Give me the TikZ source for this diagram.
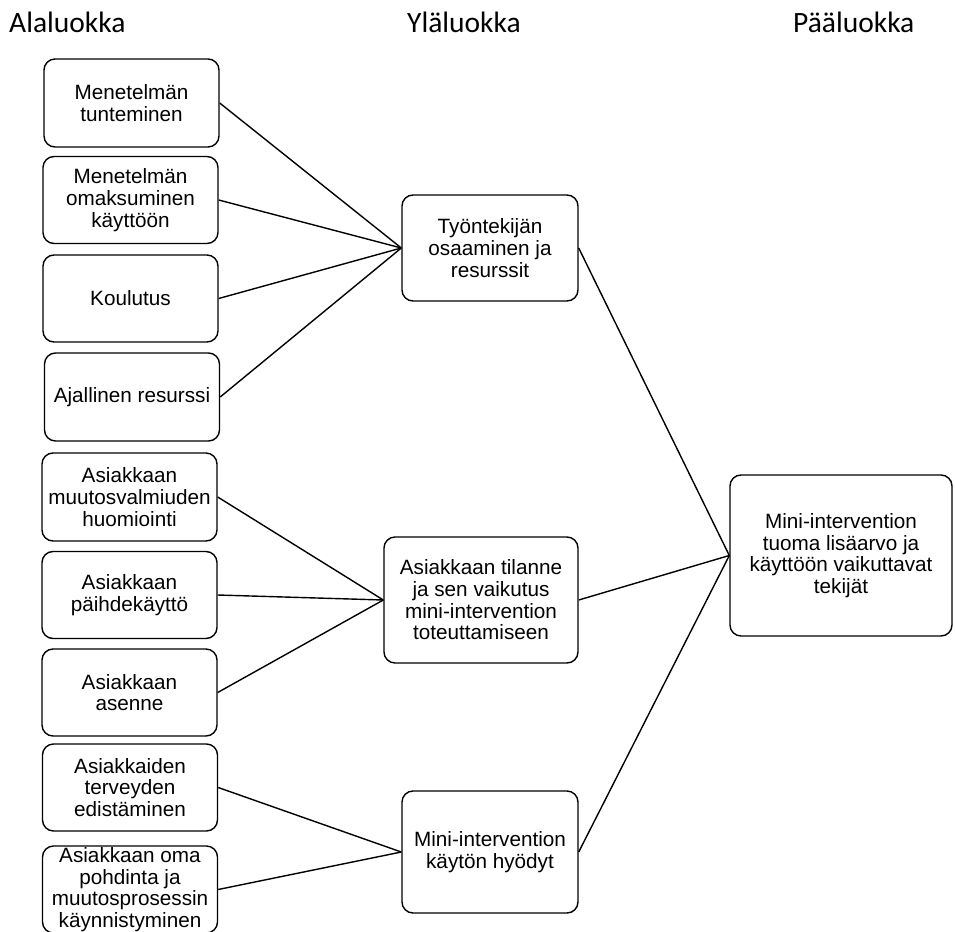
\documentclass[tikz,border=0pt]{standalone}
\usepackage{fontspec}
\setmainfont{Liberation Sans}
\newfontfamily\headfont{Carlito}
\begin{document}
\begin{tikzpicture}[x=1pt,y=-1pt,
  box/.style={draw, line width=1.4pt, rounded corners=11pt, align=center, inner sep=0pt,
    font=\fontsize{20.7}{21.7}\selectfont},
  conn/.style={line width=1.4pt},
  head/.style={anchor=base west, inner sep=0pt, font=\headfont\fontsize{29.5}{30}\selectfont}]
\useasboundingbox (0,0) rectangle (955,931);
% headers
\node[head] (h1) at (9,33) {Alaluokka};
\node[head] (h2) at (407,33) {Yläluokka};
\node[head] (h3) at (793,33) {Pääluokka};
% left column
\node[box, minimum width=175pt, minimum height=88pt] (l1) at (131.5,103) {Menetelmän\\tunteminen};
\node[box, minimum width=175pt, minimum height=87pt] (l2) at (130.5,200) {Menetelmän\\omaksuminen\\käyttöön};
\node[box, minimum width=175pt, minimum height=87pt] (l3) at (130.5,298.5) {Koulutus};
\node[box, minimum width=175pt, minimum height=88pt] (l4) at (132,397) {Ajallinen resurssi};
\node[box, minimum width=175pt, minimum height=88pt] (l5) at (129.5,497) {Asiakkaan\\muutosvalmiuden\\huomiointi};
\node[box, minimum width=175pt, minimum height=87pt] (l6) at (129.5,595) {Asiakkaan\\päihdekäyttö};
\node[box, minimum width=175pt, minimum height=87pt] (l7) at (129.5,692.5) {Asiakkaan\\asenne};
\node[box, minimum width=175pt, minimum height=87pt] (l8) at (130,787.5) {Asiakkaiden\\terveyden\\edistäminen};
\node[box, minimum width=175pt, minimum height=87pt] (l9) at (130,889.5) {Asiakkaan oma\\pohdinta ja\\muutosprosessin\\käynnistyminen};
% middle column
\node[box, minimum width=176pt, minimum height=106pt] (ma) at (490,248) {Työntekijän\\osaaminen ja\\resurssit};
\node[box, minimum width=194pt, minimum height=126pt] (mb) at (481,600) {Asiakkaan tilanne\\ja sen vaikutus\\mini-intervention\\toteuttamiseen};
\node[box, minimum width=176pt, minimum height=122pt] (mc) at (490,852) {Mini-intervention\\käytön hyödyt};
% right
\node[box, minimum width=222pt, minimum height=161pt] (r) at (841,555.5) {Mini-intervention\\tuoma lisäarvo ja\\käyttöön vaikuttavat\\tekijät};
% connectors
\foreach \s in {l1,l2,l3,l4} \draw[conn] (\s.east) -- (ma.west);
\foreach \s in {l5,l6,l7} \draw[conn] (\s.east) -- (mb.west);
\foreach \s in {l8,l9} \draw[conn] (\s.east) -- (mc.west);
\foreach \s in {ma,mb,mc} \draw[conn] (\s.east) -- (r.west);
\end{tikzpicture}
\end{document}
